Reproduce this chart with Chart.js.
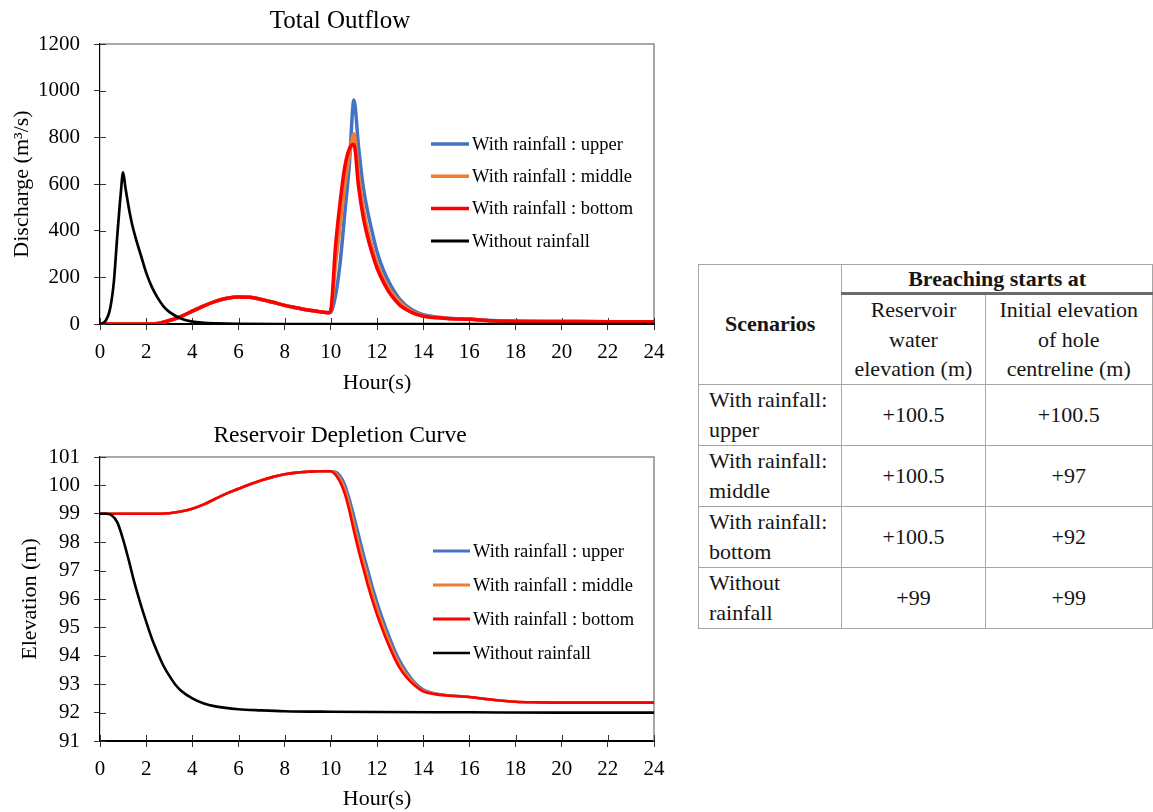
<!DOCTYPE html>
<html>
<head>
<meta charset="utf-8">
<title>Outflow and depletion</title>
<script src="https://cdn.jsdelivr.net/npm/chart.js@4.4.0/dist/chart.umd.min.js"></script>
<style>
  body { margin: 0; background: #fff; width: 1153px; height: 812px; overflow: hidden; position: relative; font-family: "Liberation Serif", "Times New Roman", serif; }
  #flowChart { position: absolute; left: 0; top: 0; }
  #levelChart { position: absolute; left: 0; top: 420px; }
  table { position: absolute; left: 698px; top: 264px; border-collapse: collapse; font-size: 22px; color: #151515; table-layout: fixed; }
  td, th { border: 1px solid #a6a6a6; padding: 0; line-height: 30px; text-align: center; vertical-align: middle; }
  th { font-weight: bold; }
  .c1 { width: 145px; } .c2 { width: 145px; } .c3 { width: 170px; }
  .grp { height: 27px; line-height: 27px; border-bottom: 3px solid #6b6b6b; }
  .sub { height: 88px; line-height: 29.5px; }
  .name { text-align: left; padding-left: 10px; height: 59px; }
</style>
</head>
<body>
<canvas id="flowChart" width="680" height="400"></canvas>
<canvas id="levelChart" width="680" height="392"></canvas>

<table>
  <colgroup><col class="c1"><col class="c2"><col class="c3"></colgroup>
  <tr><th rowspan="2">Scenarios</th><th colspan="2" class="grp">Breaching starts at</th></tr>
  <tr><td class="sub">Reservoir<br>water<br>elevation (m)</td><td class="sub">Initial elevation<br>of hole<br>centreline (m)</td></tr>
  <tr><td class="name">With rainfall:<br>upper</td><td>+100.5</td><td>+100.5</td></tr>
  <tr><td class="name">With rainfall:<br>middle</td><td>+100.5</td><td>+97</td></tr>
  <tr><td class="name">With rainfall:<br>bottom</td><td>+100.5</td><td>+92</td></tr>
  <tr><td class="name">Without<br>rainfall</td><td>+99</td><td>+99</td></tr>
</table>

<script>
// ---- data ----
const seriesNames = ["With rainfall : upper", "With rainfall : middle", "With rainfall : bottom", "Without rainfall"];
const seriesColors = ["#4472C4", "#ED7D31", "#FF0000", "#000000"];

// total outflow (m3/s)
const flowHoursRain = [0, 1, 2, 2.5, 3, 3.5, 4, 4.5, 5, 5.5, 6, 6.5, 7, 7.5, 8, 8.5, 9, 9.5, 9.9, 10, 10.2, 10.4, 10.6, 10.8, 11, 11.2, 11.4, 11.6, 11.8, 12, 12.3, 12.6, 13, 13.5, 14, 15, 16, 17, 18, 20, 22, 24];
const flowUpper  = [0, 0, 0, 2, 15, 32, 55, 78, 97, 110, 116, 115, 105, 93, 80, 70, 60, 53, 48, 50, 120, 260, 470, 680, 960, 760, 590, 480, 390, 310, 225, 165, 105, 62, 40, 26, 21, 15, 12, 11, 10, 10];
const flowMiddle = [0, 0, 0, 2, 15, 32, 55, 78, 97, 110, 116, 115, 105, 93, 80, 70, 60, 53, 48, 55, 250, 420, 590, 720, 815, 640, 500, 400, 325, 260, 190, 140, 92, 55, 36, 25, 20, 14, 12, 11, 10, 10];
const flowBottom = [0, 0, 0, 2, 15, 32, 55, 78, 97, 110, 116, 115, 105, 93, 80, 70, 60, 53, 48, 60, 330, 520, 670, 750, 770, 590, 460, 370, 300, 240, 175, 125, 80, 50, 33, 24, 20, 14, 12, 11, 10, 10];
const flowHoursDry = [0, 0.1, 0.25, 0.4, 0.5, 0.6, 0.75, 0.9, 1, 1.1, 1.2, 1.3, 1.4, 1.6, 1.8, 2, 2.25, 2.5, 2.75, 3, 3.5, 4, 4.5, 5, 6, 8, 10, 12, 16, 20, 24];
const flowDry = [0, 2, 15, 50, 100, 180, 380, 560, 650, 585, 525, 470, 423, 350, 285, 220, 158, 112, 76, 52, 24, 10, 5, 3, 1, 0, 0, 0, 0, 0, 0];

// reservoir elevation (m)
const levelHoursRain = [0, 1, 2, 3, 3.5, 4, 4.5, 5, 5.5, 6, 6.5, 7, 7.5, 8, 8.5, 9, 9.5, 10, 10.2, 10.4, 10.6, 10.8, 11, 11.2, 11.4, 11.6, 11.8, 12, 12.2, 12.4, 12.6, 12.8, 13, 13.3, 13.6, 14, 14.5, 15, 16, 17, 18, 19, 20, 22, 24];
const levelUpper  = [99, 99, 99, 99.02, 99.08, 99.18, 99.33, 99.53, 99.72, 99.88, 100.04, 100.18, 100.3, 100.39, 100.45, 100.48, 100.5, 100.5, 100.48, 100.35, 100.05, 99.55, 98.95, 98.3, 97.65, 97.05, 96.45, 95.92, 95.42, 94.97, 94.55, 94.15, 93.82, 93.42, 93.1, 92.82, 92.68, 92.62, 92.55, 92.45, 92.38, 92.36, 92.35, 92.35, 92.35];
const levelMiddle = [99, 99, 99, 99.02, 99.08, 99.18, 99.33, 99.53, 99.72, 99.88, 100.04, 100.18, 100.3, 100.39, 100.45, 100.48, 100.5, 100.5, 100.44, 100.24, 99.9, 99.35, 98.67, 98.0, 97.38, 96.78, 96.2, 95.68, 95.2, 94.77, 94.37, 94.0, 93.68, 93.32, 93.04, 92.78, 92.66, 92.61, 92.55, 92.45, 92.38, 92.36, 92.35, 92.35, 92.35];
const levelBottom = [99, 99, 99, 99.02, 99.08, 99.18, 99.33, 99.53, 99.72, 99.88, 100.04, 100.18, 100.3, 100.39, 100.45, 100.48, 100.5, 100.5, 100.38, 100.12, 99.72, 99.12, 98.4, 97.72, 97.1, 96.5, 95.95, 95.45, 95.0, 94.58, 94.2, 93.85, 93.55, 93.22, 92.98, 92.75, 92.65, 92.6, 92.55, 92.45, 92.38, 92.36, 92.35, 92.35, 92.35];
const levelHoursDry = [0, 0.25, 0.5, 0.75, 1, 1.25, 1.5, 1.75, 2, 2.25, 2.5, 2.75, 3, 3.25, 3.5, 4, 4.5, 5, 6, 7, 8, 10, 12, 16, 20, 24];
const levelDry = [99, 99, 98.95, 98.7, 98.1, 97.35, 96.55, 95.85, 95.2, 94.6, 94.1, 93.65, 93.3, 93.0, 92.78, 92.5, 92.32, 92.22, 92.12, 92.08, 92.05, 92.03, 92.02, 92.01, 92.0, 92.0];

const hourTicks = { min: 0, max: 24, step: 2 };

// ---- helpers ----
const serif = '"Liberation Serif", "Times New Roman", serif';

function pairs(xs, ys) {
  return xs.map((x, i) => ({ x: x, y: ys[i] }));
}

function makeSet(i, xs, ys, width) {
  return {
    label: seriesNames[i],
    data: pairs(xs, ys),
    borderColor: seriesColors[i],
    backgroundColor: seriesColors[i],
    borderWidth: width,
    pointRadius: 0,
    fill: false,
    cubicInterpolationMode: "monotone",
    order: 3 - i
  };
}

// gray frame on top/right plus the inner half of the crossing tick marks
const framePlugin = {
  id: "frame",
  beforeDatasetsDraw(chart) {
    const { ctx, chartArea: a, scales } = chart;
    ctx.save();
    ctx.strokeStyle = "#8c8c8c";
    ctx.lineWidth = 1.5;
    ctx.beginPath();
    ctx.moveTo(a.left, a.top);
    ctx.lineTo(a.right, a.top);
    ctx.lineTo(a.right, a.bottom);
    ctx.stroke();
    ctx.strokeStyle = "#333";
    ctx.lineWidth = 1;
    scales.x.ticks.forEach(t => {
      const px = Math.round(scales.x.getPixelForValue(t.value)) + 0.5;
      ctx.beginPath(); ctx.moveTo(px, a.bottom); ctx.lineTo(px, a.bottom - 6); ctx.stroke();
    });
    scales.y.ticks.forEach(t => {
      const py = Math.round(scales.y.getPixelForValue(t.value)) + 0.5;
      ctx.beginPath(); ctx.moveTo(a.left, py); ctx.lineTo(a.left + 6, py); ctx.stroke();
    });
    ctx.restore();
  }
};

// legend drawn inside the plot area, one row per series
const insideLegend = {
  id: "insideLegend",
  afterDatasetsDraw(chart, args, opts) {
    const ctx = chart.ctx;
    ctx.save();
    ctx.font = opts.font;
    ctx.textBaseline = "middle";
    ctx.textAlign = "left";
    chart.data.datasets.forEach((ds, i) => {
      const y = opts.y + i * opts.gap;
      ctx.strokeStyle = ds.borderColor;
      ctx.lineWidth = i === 3 ? opts.lineWidth - 0.5 : opts.lineWidth;
      ctx.beginPath();
      ctx.moveTo(opts.x, y);
      ctx.lineTo(opts.x + opts.len, y);
      ctx.stroke();
      ctx.fillStyle = "#000";
      ctx.fillText(ds.label, opts.x + opts.len + 3, y + 1);
    });
    ctx.restore();
  }
};

function makeChart(id, cfg) {
  return new Chart(document.getElementById(id), {
    type: "line",
    data: { datasets: cfg.datasets },
    plugins: [framePlugin, insideLegend],
    options: {
      responsive: false,
      animation: false,
      devicePixelRatio: 1,
      // equal side padding keeps the title centred on the canvas
      layout: { padding: { left: 26, right: 26, top: 0, bottom: 0 } },
      plugins: {
        legend: { display: false },
        tooltip: { enabled: false },
        title: {
          display: true,
          text: cfg.title,
          color: "#000",
          font: { family: serif, size: cfg.titleSize, weight: "normal" },
          padding: cfg.titlePad
        },
        insideLegend: cfg.legend
      },
      scales: {
        x: {
          type: "linear",
          min: hourTicks.min,
          max: hourTicks.max,
          ticks: { stepSize: hourTicks.step, color: "#000", font: { family: serif, size: 21 }, padding: 10, maxRotation: 0 },
          grid: { drawOnChartArea: false, drawTicks: true, tickLength: 6, color: "#333" },
          border: { color: "#000", width: 2 },
          title: { display: true, text: "Hour(s)", color: "#000", font: { family: serif, size: 22 }, padding: { top: 0, bottom: cfg.xTitleBottom } },
          afterFit: s => { s.height = cfg.xHeight; }
        },
        y: {
          min: cfg.yMin,
          max: cfg.yMax,
          ticks: { stepSize: cfg.yStep, color: "#000", font: { family: serif, size: 21 }, padding: 14, callback: v => String(v) },
          grid: { drawOnChartArea: false, drawTicks: true, tickLength: 6, color: "#333" },
          border: { color: "#000", width: 1.2 },
          title: { display: true, text: cfg.yTitle, color: "#000", font: { family: serif, size: 22 }, padding: { top: cfg.yTitleTop, bottom: 0 } },
          afterFit: s => { s.width = 74; }
        }
      }
    }
  });
}

makeChart("flowChart", {
  title: "Total Outflow",
  titleSize: 25,
  titlePad: { top: 6, bottom: 8 },
  xHeight: 76,
  xTitleBottom: 4,
  yMin: 0, yMax: 1200, yStep: 200,
  yTitle: "Discharge (m\u00b3/s)",
  yTitleTop: -17.2,
  legend: { x: 431, y: 144, gap: 32.3, len: 38, lineWidth: 3.5, font: "18.5px " + serif },
  datasets: [
    makeSet(0, flowHoursRain, flowUpper, 3.5),
    makeSet(1, flowHoursRain, flowMiddle, 3.5),
    makeSet(2, flowHoursRain, flowBottom, 3.5),
    makeSet(3, flowHoursDry, flowDry, 2.7)
  ]
});

makeChart("levelChart", {
  title: "Reservoir Depletion Curve",
  titleSize: 23.5,
  titlePad: { top: 2, bottom: 6.8 },
  xHeight: 71,
  xTitleBottom: 0,
  yMin: 91, yMax: 101, yStep: 1,
  yTitle: "Elevation (m)",
  yTitleTop: -9.2,
  legend: { x: 433, y: 131, gap: 34, len: 37, lineWidth: 3.2, font: "18.5px " + serif },
  datasets: [
    makeSet(0, levelHoursRain, levelUpper, 2.6),
    makeSet(1, levelHoursRain, levelMiddle, 2.6),
    makeSet(2, levelHoursRain, levelBottom, 2.6),
    makeSet(3, levelHoursDry, levelDry, 2.6)
  ]
});
</script>
</body>
</html>
